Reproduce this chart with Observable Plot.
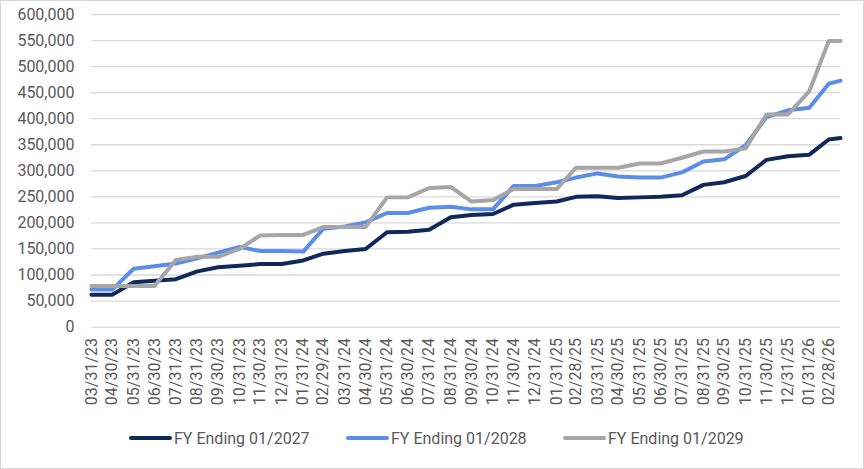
<!DOCTYPE html>
<html><head><meta charset="utf-8">
<script src="https://cdn.jsdelivr.net/npm/d3@7"></script>
<script src="https://cdn.jsdelivr.net/npm/@observablehq/plot@0.6"></script>
<style>
html,body{margin:0;padding:0;background:#fff;}
#wrap{position:relative;width:864px;height:469px;box-sizing:border-box;border:1px solid #d9d9d9;font-family:Roboto,sans-serif;color:#595959;overflow:hidden;background:#fff;}
#chart{position:absolute;left:-1px;top:-1px;}
#legend{position:absolute;top:427px;left:0;height:20px;width:100%;}
.item{position:absolute;top:0;display:flex;align-items:center;height:20px;font-size:16px;white-space:nowrap;color:#595959;}
.sw{width:43px;height:4px;border-radius:2px;margin-right:2px;}
</style></head>
<body><div id="wrap"><div id="chart"></div><div id="legend"></div></div>
<script>
// Month-end dates (x tick labels) plus the latest data date
const monthEnds = [
  "2023-03-31","2023-04-30","2023-05-31","2023-06-30","2023-07-31","2023-08-31","2023-09-30","2023-10-31","2023-11-30","2023-12-31",
  "2024-01-31","2024-02-29","2024-03-31","2024-04-30","2024-05-31","2024-06-30","2024-07-31","2024-08-31","2024-09-30","2024-10-31","2024-11-30","2024-12-31",
  "2025-01-31","2025-02-28","2025-03-31","2025-04-30","2025-05-31","2025-06-30","2025-07-31","2025-08-31","2025-09-30","2025-10-31","2025-11-30","2025-12-31",
  "2026-01-31","2026-02-28"
];
const latestDate = "2026-03-17";
const dates = [...monthEnds, latestDate];

const seriesNames = ["FY Ending 01/2027", "FY Ending 01/2028", "FY Ending 01/2029"];
const seriesColors = ["#10295a", "#5b8ee6", "#a6a6a8"];

const fy2027 = [62000,62000,86000,89000,92000,107000,115000,118000,121000,121000,
  128000,141000,146000,150000,182000,183000,187000,211000,215000,217000,235000,238000,
  241000,250000,251000,248000,249000,250000,253000,273000,278000,290000,321000,328000,
  331000,360000,363000];
const fy2028 = [72000,72000,112000,117000,122000,132000,143000,154000,146000,146000,
  145000,189000,193000,201000,219000,219000,229000,231000,226000,226000,271000,271000,
  278000,287000,295000,289000,287000,287000,297000,318000,322000,349000,403000,416000,
  421000,467000,473000];
const fy2029 = [79000,79000,79000,79000,129000,135000,135000,150000,176000,177000,
  177000,192000,192000,192000,249000,249000,267000,269000,241000,244000,265000,265000,
  265000,306000,306000,306000,314000,314000,325000,337000,337000,343000,408000,408000,
  453000,549000,549000];

const yTicks = [0,50000,100000,150000,200000,250000,300000,350000,400000,450000,500000,550000,600000];

const seriesValues = [fy2027, fy2028, fy2029];
const rows = [];
seriesNames.forEach((name, si) => {
  dates.forEach((d, i) => rows.push({series: name, date: new Date(d), value: seriesValues[si][i]}));
});
const tickDates = monthEnds.map(d => new Date(d));

const chart = Plot.plot({
  width: 864, height: 415,
  marginLeft: 91, marginRight: 23, marginTop: 14, marginBottom: 88,
  style: {fontFamily: "Roboto, sans-serif", fontSize: "16px", color: "#595959", background: "transparent", overflow: "visible"},
  x: {type: "utc", domain: [new Date(dates[0]), new Date(latestDate)]},
  y: {domain: [0, 600000]},
  color: {domain: seriesNames, range: seriesColors},
  marks: [
    Plot.gridY(yTicks, {stroke: "#d9d9d9", strokeOpacity: 1, strokeWidth: 1.3}),
    Plot.axisY(yTicks, {tickFormat: d3.format(","), tickSize: 0, tickPadding: 17, label: null}),
    Plot.axisX(tickDates, {tickFormat: d3.utcFormat("%m/%d/%y"), tickRotate: -90, tickSize: 0, tickPadding: 11, label: null}),
    ...seriesNames.map(name => Plot.line(rows.filter(r => r.series === name), {
      x: "date", y: "value", stroke: "series", strokeWidth: 4, strokeLinejoin: "round"
    }))
  ]
});
document.getElementById("chart").appendChild(chart);

const legend = document.getElementById("legend");
const legendLeft = [128, 345, 562];
seriesNames.forEach((name, i) => {
  const item = document.createElement("div");
  item.className = "item";
  item.style.left = legendLeft[i] + "px";
  const sw = document.createElement("span");
  sw.className = "sw";
  sw.style.background = seriesColors[i];
  const t = document.createElement("span");
  t.textContent = name;
  item.appendChild(sw); item.appendChild(t);
  legend.appendChild(item);
});
</script>
</body></html>
